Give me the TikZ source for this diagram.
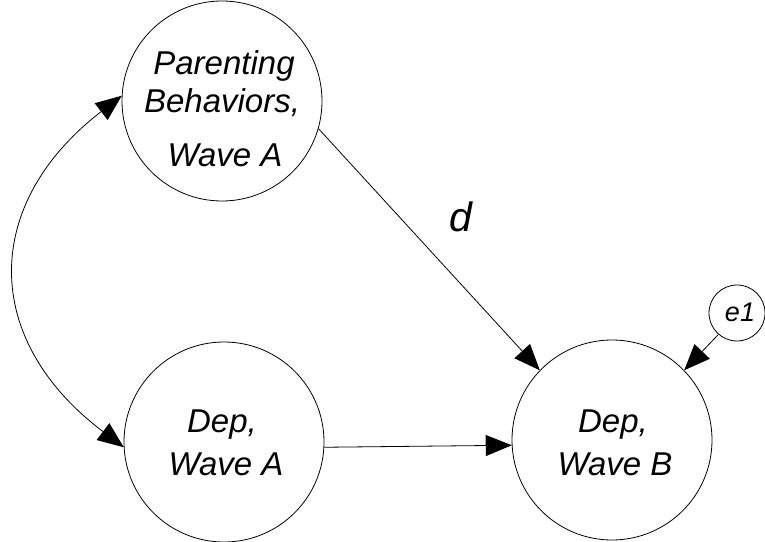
\documentclass[tikz,border=0pt]{standalone}
\usepackage{fontspec}
\setmainfont{Liberation Sans}
\usetikzlibrary{arrows.meta}
\tikzset{
  latent/.style={draw, circle, line width=0.8pt, minimum size=200pt, inner sep=0pt},
  small/.style={draw, circle, line width=0.8pt, minimum size=56pt, inner sep=0pt},
  lbl/.style={anchor=base, inner sep=0pt, font=\fontsize{33}{33}\selectfont\itshape},
  path/.style={line width=0.8pt, -{Triangle[length=26pt,width=21pt]}},
  cov/.style={line width=0.8pt, {Triangle[length=26pt,width=21pt]}-{Triangle[length=26pt,width=21pt]}}
}
\begin{document}
\begin{tikzpicture}[x=1pt,y=1pt]
\useasboundingbox (0,0) rectangle (765,541);
\node[latent] (P) at (222,440) {};
\node[latent] (A) at (224,99) {};
\node[latent] (B) at (612,101) {};
\node[small] (E) at (737,228) {};
% texts
\node[lbl] (P1) at (224,466) {Parenting};
\node[lbl] (P2) at (222,428) {Behaviors,};
\node[lbl] (P3) at (225,374) {Wave A};
\node[lbl] (A1) at (222,109) {Dep,};
\node[lbl] (A2) at (226,66) {Wave A};
\node[lbl] (B1) at (613,109) {Dep,};
\node[lbl] (B2) at (615,66) {Wave B};
\node[lbl, font=\fontsize{27}{27}\selectfont\itshape] (E1) at (740,219) {e1};
\node[lbl, font=\fontsize{41}{41}\selectfont\itshape] (D) at (461,309) {d};
% connectors
\draw[path] (P.-16) -- (B.136);
\draw[path] (A.-3) -- (B.183);
\draw[path] (E.229) -- (B.44);
\draw[cov] (P.177) .. controls +(-140,-108) and +(-143,108) .. (A.183);
\end{tikzpicture}
\end{document}
